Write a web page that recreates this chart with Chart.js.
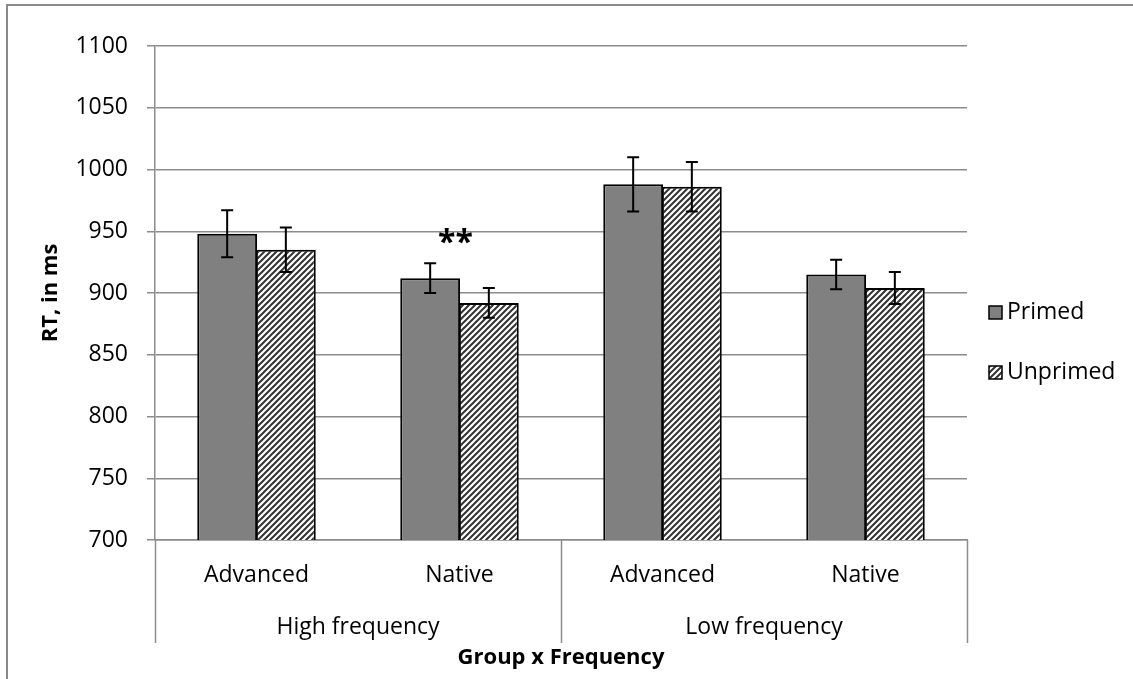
<!DOCTYPE html>
<html>
<head>
<meta charset="utf-8">
<script src="https://cdn.jsdelivr.net/npm/chart.js@4"></script>
<style>
  html, body { margin: 0; padding: 0; background: #fff; }
  canvas { display: block; }
</style>
</head>
<body>
<canvas id="myChart" width="1133" height="679"></canvas>
<script>
// data
const categories = ['Advanced', 'Native', 'Advanced', 'Native'];
const groups = ['High frequency', 'Low frequency'];
const seriesNames = ['Primed', 'Unprimed'];
const primed = [948, 912, 988, 915];
const unprimed = [935, 892, 986, 904];
const primedErr = [19, 12, 22, 12];
const unprimedErr = [18, 12, 20, 13];
const yTicks = [700, 750, 800, 850, 900, 950, 1000, 1050, 1100];
const marks = [{ index: 1, text: '**' }];

const FONT = "'Open Sans', sans-serif";
const FS = 23;
const gridColor = '#8c8c8c';

// diagonal hatch for the Unprimed bars
function makeHatch() {
    const c = document.createElement('canvas');
    c.width = 6; c.height = 6;
    const g = c.getContext('2d');
    g.fillStyle = '#fff';
    g.fillRect(0, 0, 6, 6);
    g.strokeStyle = '#333';
    g.lineWidth = 2;
    g.beginPath();
    g.moveTo(0, 6); g.lineTo(6, 0);
    g.moveTo(-1, 1); g.lineTo(1, -1);
    g.moveTo(5, 7); g.lineTo(7, 5);
    g.stroke();
    return g.createPattern(c, 'repeat');
}
const hatch = makeHatch();

const extras = {
    id: 'extras',
    afterDatasetsDraw(chart) {
        const ctx = chart.ctx;
        const y = chart.scales.y;
        const errs = [primedErr, unprimedErr];
        ctx.save();
        ctx.strokeStyle = '#000';
        ctx.lineWidth = 2;
        chart.data.datasets.forEach((ds, d) => {
            chart.getDatasetMeta(d).data.forEach((bar, i) => {
                const v = ds.data[i], e = errs[d][i];
                const top = y.getPixelForValue(v + e), bot = y.getPixelForValue(v - e);
                ctx.beginPath();
                ctx.moveTo(bar.x, top); ctx.lineTo(bar.x, bot);
                ctx.moveTo(bar.x - 6, top); ctx.lineTo(bar.x + 6, top);
                ctx.moveTo(bar.x - 6, bot); ctx.lineTo(bar.x + 6, bot);
                ctx.stroke();
            });
        });
        // significance marks
        ctx.fillStyle = '#000';
        ctx.font = 'bold 32px ' + FONT;
        ctx.textAlign = 'center';
        ctx.textBaseline = 'alphabetic';
        marks.forEach(m => {
            const cx = chart.scales.x.getPixelForValue(m.index) - 4;
            const top = y.getPixelForValue(primed[m.index] + primedErr[m.index]);
            ctx.fillText(m.text, cx, top - 10);
        });
        ctx.restore();
    },
    afterDraw(chart) {
        const ctx = chart.ctx;
        const x = chart.scales.x;
        const area = chart.chartArea;
        ctx.save();
        // group separators and group labels
        ctx.strokeStyle = gridColor;
        ctx.lineWidth = 1.5;
        const per = categories.length / groups.length;
        const step = (area.right - area.left) / categories.length;
        for (let g = 0; g <= groups.length; g++) {
            const px = Math.round(area.left + g * per * step) + 0.5;
            ctx.beginPath();
            ctx.moveTo(px, area.bottom);
            ctx.lineTo(px, 643);
            ctx.stroke();
        }
        ctx.fillStyle = '#000';
        ctx.font = FS + 'px ' + FONT;
        ctx.textAlign = 'center';
        ctx.textBaseline = 'middle';
        groups.forEach((name, g) => {
            const cx = (x.getPixelForValue(g * per) + x.getPixelForValue(g * per + per - 1)) / 2;
            ctx.fillText(name, cx, 627);
        });
        // legend
        const fills = ['#808080', hatch];
        const ly = [312, 372];
        ctx.textAlign = 'left';
        seriesNames.forEach((name, i) => {
            ctx.fillStyle = fills[i];
            ctx.fillRect(989, ly[i] - 6, 13, 13);
            ctx.strokeStyle = '#000';
            ctx.lineWidth = 1.5;
            ctx.strokeRect(989, ly[i] - 6, 13, 13);
            ctx.fillStyle = '#000';
            ctx.fillText(name, 1007, ly[i]);
        });
        // outer frame (left and top edges visible)
        ctx.strokeStyle = '#8a8a8a';
        ctx.lineWidth = 2;
        ctx.strokeRect(7, 5, 1200, 800);
        ctx.restore();
    }
};

new Chart(document.getElementById('myChart'), {
    type: 'bar',
    data: {
        labels: categories,
        datasets: [
            { label: seriesNames[0], data: primed, backgroundColor: '#808080', borderColor: '#000', borderWidth: 2, borderSkipped: false },
            { label: seriesNames[1], data: unprimed, backgroundColor: hatch, borderColor: '#000', borderWidth: 2, borderSkipped: false }
        ]
    },
    options: {
        responsive: false,
        animation: false,
        layout: { padding: { left: 0, top: 46, right: 166, bottom: 0 } },
        datasets: { bar: { categoryPercentage: 0.578, barPercentage: 1.02 } },
        plugins: { legend: { display: false }, tooltip: { enabled: false } },
        scales: {
            x: {
                afterFit: s => { s.height = 139; },
                grid: { display: false, drawTicks: false },
                border: { color: gridColor, width: 1.5 },
                ticks: { color: '#000', font: { family: FONT, size: FS }, padding: 22, maxRotation: 0 },
                title: { display: true, text: 'Group x Frequency', color: '#000', font: { family: FONT, size: FS - 1, weight: 'bold' }, padding: { top: 0, bottom: 8 } }
            },
            y: {
                min: 700, max: 1100,
                afterFit: s => { s.width = 155; },
                afterBuildTicks: s => { s.ticks = yTicks.map(v => ({ value: v })); },
                grid: { color: gridColor, lineWidth: 1.5, tickLength: 8 },
                border: { color: gridColor, width: 1.5 },
                ticks: { color: '#000', font: { family: FONT, size: FS }, padding: 19, callback: v => String(v) },
                title: { display: true, text: 'RT, in ms', color: '#000', font: { family: FONT, size: FS - 1, weight: 'bold' }, padding: { top: 38, bottom: 0 } }
            }
        }
    },
    plugins: [extras]
});
</script>
</body>
</html>
